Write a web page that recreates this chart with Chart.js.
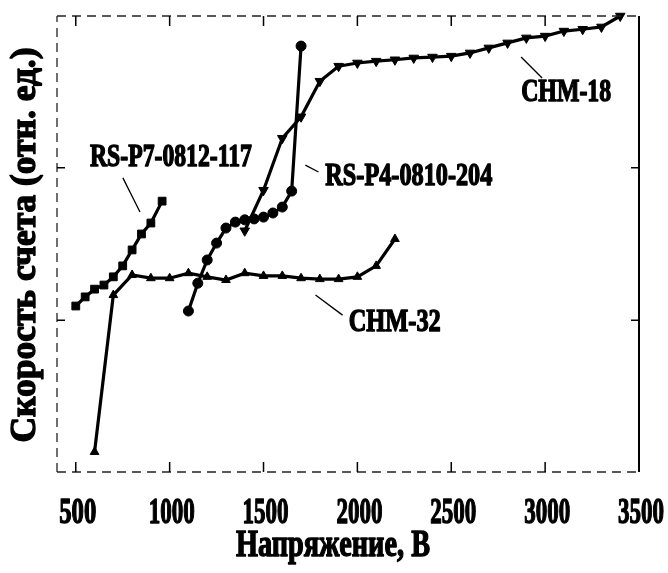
<!DOCTYPE html>
<html>
<head>
<meta charset="utf-8">
<script src="https://cdn.jsdelivr.net/npm/chart.js@4"></script>
<style>
  body { margin: 0; background: #fff; }
  #chart { display: block; }
</style>
</head>
<body>
<canvas id="chart" width="668" height="573"></canvas>
<script>
// ---- data (voltage, V / count rate, rel. units) ----
const chm32V    = [600, 700, 800, 900, 1000, 1100, 1200, 1300, 1400, 1500, 1600, 1700, 1800, 1900, 2000, 2100, 2200];
const chm32Rate = [4.4, 38.8, 43.2, 42.5, 42.5, 43.6, 42.8, 42.1, 43.6, 43.0, 43.0, 42.5, 42.3, 42.3, 42.8, 45.2, 51.1];

const chm18V    = [1400, 1500, 1600, 1700, 1800, 1900, 2000, 2100, 2200, 2300, 2400, 2500, 2600, 2700, 2800, 2900, 3000, 3100, 3200, 3300, 3400];
const chm18Rate = [52.9, 61.8, 73.2, 77.9, 85.7, 89.0, 89.7, 90.1, 90.4, 90.8, 91.0, 91.2, 91.9, 93.0, 94.1, 95.2, 95.6, 96.7, 97.1, 97.6, 100];

const p4V    = [1100, 1150, 1200, 1250, 1300, 1350, 1400, 1450, 1500, 1550, 1600, 1650, 1700];
const p4Rate = [35.3, 41.4, 46.5, 50.2, 53.5, 54.8, 55.3, 55.5, 55.9, 56.8, 58.1, 61.6, 93.4];

const p7V    = [500, 550, 600, 650, 700, 750, 800, 850, 900, 960];
const p7Rate = [36.4, 38.4, 40.1, 41.0, 42.8, 45.2, 48.7, 52.2, 54.6, 59.4];

const xTicks = [500, 1000, 1500, 2000, 2500, 3000, 3500];
const yTicks = [33.3, 66.7];

const xTitle = "Напряжение, В";
const yTitle = "Скорость счета (отн. ед.)";

// curve labels: text position and leader line, in data units
const curveLabels = [
  { text: "RS-P7-0812-117", x: 1007, y: 68.9, w: 162, from: [751, 64.5], to: [842, 57.0] },
  { text: "RS-P4-0810-204", x: 2274, y: 64.7, w: 167, from: [1723, 67.3], to: [1793, 65.8] },
  { text: "CHM-18",         x: 3112, y: 83.1, w: 90,  from: [2872, 91.0], to: [2984, 86.4] },
  { text: "CHM-32",         x: 2199, y: 32.7, w: 92,  from: [1777, 38.8], to: [1921, 34.4] }
];

const SERIF = '"Liberation Serif", "DejaVu Serif", serif';

function pairs(xs, ys) {
  return xs.map((x, i) => ({ x: x, y: ys[i] }));
}

// heavy bold serif text squeezed to a given width
function squeezeText(ctx, text, x, y, size, width, angle) {
  ctx.save();
  ctx.font = "bold " + size + "px " + SERIF;
  const w = ctx.measureText(text).width;
  ctx.translate(x, y);
  if (angle) ctx.rotate(angle);
  ctx.scale(width / w, 1);
  ctx.textAlign = "center";
  ctx.textBaseline = "middle";
  ctx.fillStyle = "#000";
  ctx.strokeStyle = "#000";
  ctx.lineWidth = 1.4;
  ctx.lineJoin = "round";
  ctx.fillText(text, 0, 0);
  ctx.strokeText(text, 0, 0);
  ctx.restore();
}

function lineSet(label, xs, ys, style, radius, rotation) {
  return {
    label: label,
    data: pairs(xs, ys),
    borderColor: "#000",
    backgroundColor: "#000",
    borderWidth: 3.2,
    pointStyle: style,
    pointRadius: radius,
    pointRotation: rotation || 0,
    pointBorderWidth: 1,
    pointBorderColor: "#000",
    pointBackgroundColor: "#000",
    tension: 0,
    clip: false
  };
}

/* ===== frame, inward ticks, tick labels, titles ===== */
const framePlugin = {
  id: "frame",
  afterDraw(chart) {
    const { ctx, chartArea: a, scales } = chart;
    const xs = scales.x, ys = scales.y;

    ctx.save();
    ctx.strokeStyle = "#222";

    // left / top / bottom look broken, right side solid
    ctx.lineWidth = 1.3;
    ctx.setLineDash([9, 6]);
    ctx.beginPath();
    ctx.moveTo(a.left, a.bottom); ctx.lineTo(a.left, a.top);
    ctx.moveTo(a.left, a.top); ctx.lineTo(a.right, a.top);
    ctx.moveTo(a.left, a.bottom); ctx.lineTo(a.right, a.bottom);
    ctx.stroke();

    ctx.setLineDash([]);
    ctx.strokeStyle = "#000";
    ctx.lineWidth = 2;
    ctx.beginPath();
    ctx.moveTo(a.right, a.top); ctx.lineTo(a.right, a.bottom);
    ctx.stroke();

    // inward ticks
    ctx.lineWidth = 1.5;
    ctx.beginPath();
    xTicks.forEach(v => {
      const px = xs.getPixelForValue(v);
      if (px >= a.right - 1) return;
      ctx.moveTo(px, a.bottom); ctx.lineTo(px, a.bottom - 10);
      ctx.moveTo(px, a.top); ctx.lineTo(px, a.top + 10);
    });
    yTicks.forEach(v => {
      const py = ys.getPixelForValue(v);
      ctx.moveTo(a.left, py); ctx.lineTo(a.left + 8, py);
      ctx.moveTo(a.right, py); ctx.lineTo(a.right - 8, py);
    });
    ctx.stroke();
    ctx.restore();

    // x tick labels
    xTicks.forEach(v => {
      const s = String(v);
      squeezeText(ctx, s, xs.getPixelForValue(v) + 2, a.bottom + 42, 35, s.length === 3 ? 37 : 46);
    });

    // axis titles
    squeezeText(ctx, xTitle, 333, 546, 37, 194);
    squeezeText(ctx, yTitle, 26, 245, 36, 395, -Math.PI / 2);

    // curve labels with leader lines
    ctx.save();
    ctx.strokeStyle = "#000";
    ctx.lineWidth = 1.3;
    curveLabels.forEach(l => {
      ctx.beginPath();
      ctx.moveTo(xs.getPixelForValue(l.from[0]), ys.getPixelForValue(l.from[1]));
      ctx.lineTo(xs.getPixelForValue(l.to[0]), ys.getPixelForValue(l.to[1]));
      ctx.stroke();
    });
    ctx.restore();
    curveLabels.forEach(l => {
      squeezeText(ctx, l.text, xs.getPixelForValue(l.x), ys.getPixelForValue(l.y), 31, l.w);
    });
  }
};

new Chart(document.getElementById("chart"), {
  type: "line",
  data: {
    datasets: [
      lineSet("RS-P7-0812-117", p7V, p7Rate, "rect", 5.5),
      lineSet("RS-P4-0810-204", p4V, p4Rate, "circle", 5),
      lineSet("CHM-32", chm32V, chm32Rate, "triangle", 5),
      lineSet("CHM-18", chm18V, chm18Rate, "triangle", 5.5, 180)
    ]
  },
  options: {
    responsive: false,
    animation: false,
    layout: { padding: { left: 57, right: 29, top: 16, bottom: 101 } },
    scales: {
      x: { type: "linear", min: 400, max: 3500, display: false },
      y: { type: "linear", min: 0, max: 100, display: false }
    },
    plugins: {
      legend: { display: false },
      tooltip: { enabled: false }
    }
  },
  plugins: [framePlugin]
});
</script>
</body>
</html>
